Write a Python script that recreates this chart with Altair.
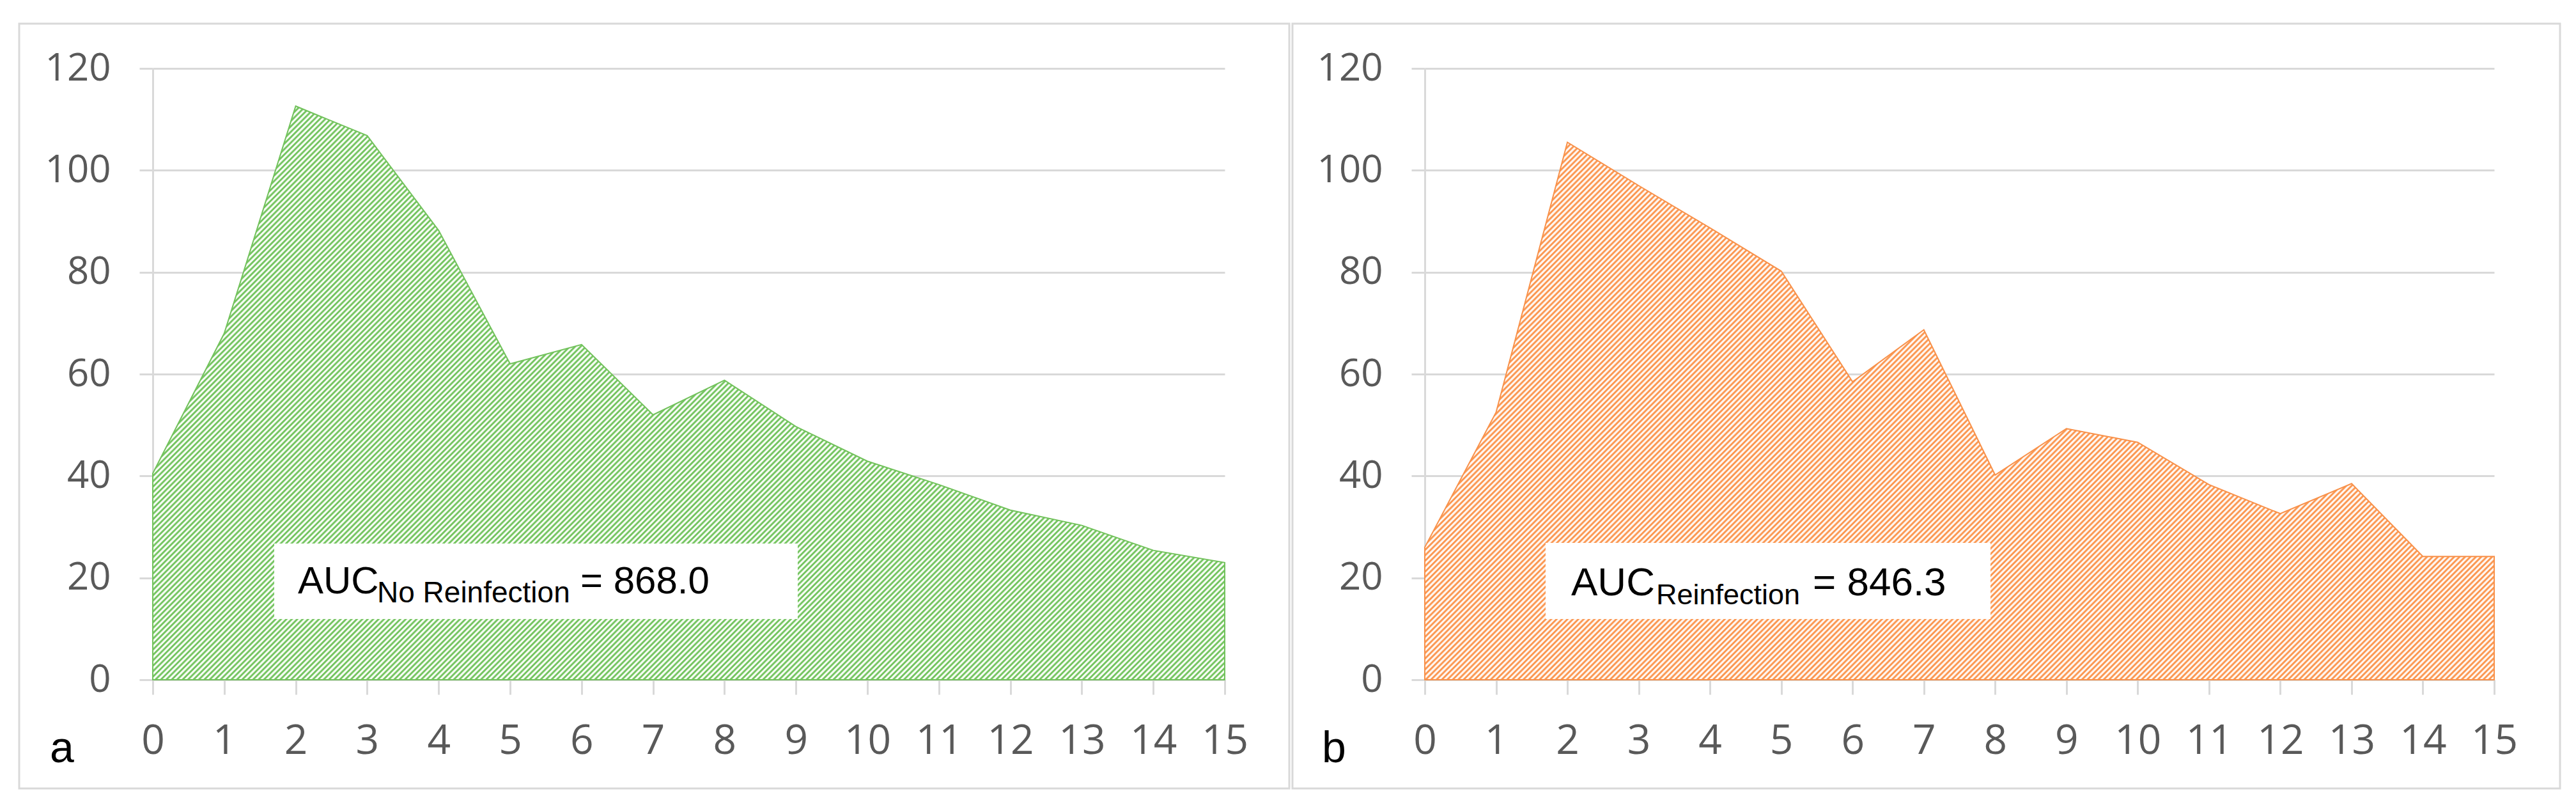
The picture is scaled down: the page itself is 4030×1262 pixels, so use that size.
import math
import altair as alt
import pandas as pd

# ---- data ----
days = list(range(16))
no_reinfection = [40.5, 68.0, 112.6, 106.8, 88.2, 62.0, 65.8, 52.0, 58.8, 49.7, 42.9, 38.3, 33.3, 30.3, 25.4, 23.0]
reinfection = [26.0, 52.5, 105.5, 97.0, 88.7, 80.2, 58.5, 68.7, 40.2, 49.3, 46.6, 38.3, 32.6, 38.5, 24.2, 24.2]
y_ticks = [0, 20, 40, 60, 80, 100, 120]
x_ticks = days

PLOT_H = 956
Y_MAX = 120
TICK_FONT = "Open Sans"
TEXT_FONT = "Liberation Sans"
GRID = "#d9d9d9"
LABEL_COLOR = "#595959"


def hatch(c_line, c_gap, W, H, period=6.0):
    """Diagonal '/' stripes built from a linear gradient in bounding-box units."""
    L = (W + H) / math.sqrt(2)
    n = L / period
    b = H * (W + H) / (W ** 2 + H ** 2)
    a = b * W / H
    stops = []
    k = 0
    while True:
        o = k / n
        if o > 1:
            break
        for off, col in ((o, c_line), (o + 0.38 / n, c_line), (o + 0.48 / n, c_gap), (o + 0.90 / n, c_gap)):
            if off <= 1:
                stops.append(alt.GradientStop(offset=round(off, 6), color=col))
        k += 1
    return alt.Gradient(gradient="linear", stops=stops, x1=0, y1=0, x2=a, y2=b)


def panel(values, W, line_col, gap_col, edge_col, letter, auc_parts, frame_x):
    df = pd.DataFrame({"day": days, "value": values})
    H = max(values) * PLOT_H / Y_MAX
    one = pd.DataFrame({"k": [0]})

    x = alt.X("day:Q", scale=alt.Scale(domain=[0, 15], nice=False, zero=False),
              axis=alt.Axis(values=x_ticks, title=None, grid=False, domain=True,
                            domainColor=GRID, domainWidth=3, ticks=True, tickColor=GRID,
                            tickWidth=3, tickSize=23, labelFont=TICK_FONT, labelFontSize=64,
                            labelColor=LABEL_COLOR, labelPadding=41, labelFlush=False,
                            labelOverlap=False, labelBound=False))
    y = alt.Y("value:Q", scale=alt.Scale(domain=[0, Y_MAX], nice=False),
              axis=alt.Axis(values=y_ticks, title=None, grid=True, gridColor=GRID, gridWidth=3,
                            domain=True, domainColor=GRID, domainWidth=3, ticks=True,
                            tickColor=GRID, tickWidth=3, tickSize=21, labelFont=TICK_FONT,
                            labelFontSize=60, labelColor=LABEL_COLOR, labelPadding=45))

    area = alt.Chart(df).mark_area(
        fill=hatch(line_col, gap_col, W, H), stroke=edge_col, strokeWidth=2, interpolate="linear"
    ).encode(x=x, y=y)

    frame = alt.Chart(one).mark_rect(filled=False, stroke=GRID, strokeWidth=3).encode(
        x=alt.value(frame_x[0]), x2=alt.value(frame_x[1]),
        y=alt.value(-70), y2=alt.value(1126))

    bx = auc_parts["box"]
    box = alt.Chart(one).mark_rect(fill="white").encode(
        x=alt.value(bx[0]), x2=alt.value(bx[1]), y=alt.value(bx[2]), y2=alt.value(bx[3]))

    layers = [frame, area, box]
    for txt, px, py, size in auc_parts["texts"]:
        layers.append(
            alt.Chart(one).mark_text(text=txt, align="left", baseline="alphabetic",
                                     font=TEXT_FONT, fontSize=size, color="black")
            .encode(x=alt.value(px), y=alt.value(py)))
    layers.append(
        alt.Chart(one).mark_text(text=letter, align="left", baseline="alphabetic",
                                 font=TEXT_FONT, fontSize=68, color="black")
        .encode(x=alt.value(-161), y=alt.value(1085)))

    return alt.layer(*layers).properties(width=W, height=PLOT_H)


pa = panel(no_reinfection, 1677, "#78c664", "#f4fbf2", "#72c25c", "a",
           {"box": (190, 1009, 743, 861),
            "texts": [("AUC", 227, 821, 60), ("No Reinfection", 351, 835, 46), ("= 868.0", 669, 821, 60)]},
           (-209, 1778))
pb = panel(reinfection, 1673, "#fb9a56", "#fff5ee", "#f8914a", "b",
           {"box": (189, 885, 742, 861),
            "texts": [("AUC", 229, 824, 62), ("Reinfection", 362, 838, 45), ("= 846.3", 607, 824, 62)]},
           (-207, 1776))

chart = alt.hconcat(pa, pb, spacing=313, bounds="flush").properties(
    padding={"left": 20, "top": 27, "right": 5, "bottom": 5},
    background="white",
).configure_view(stroke=None)

chart.save("out.html", embed_options={"renderer": "svg", "actions": False})
